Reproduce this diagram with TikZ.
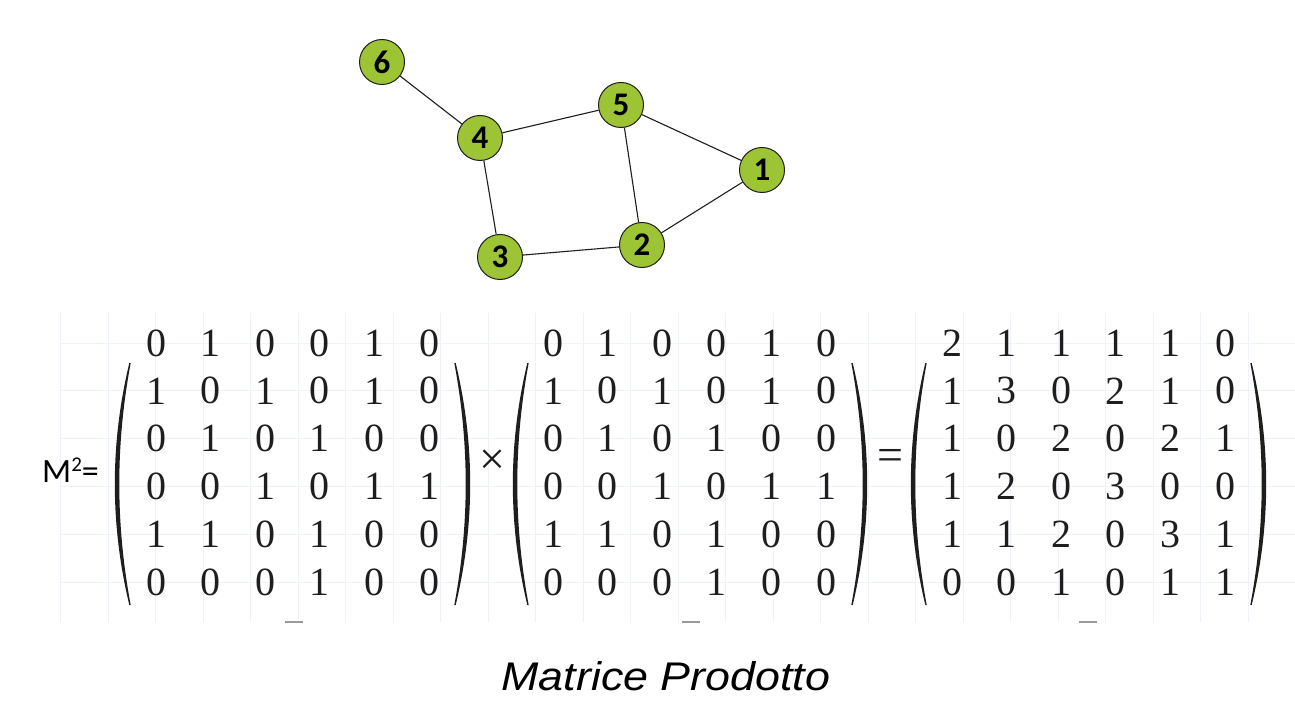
\documentclass[tikz,border=0pt]{standalone}
\usepackage{fontspec}
\setmainfont{Liberation Serif}
\newfontfamily\calibri{Carlito}
\newfontfamily\arialf{Liberation Sans}
\definecolor{nodegreen}{RGB}{156,196,52}
\definecolor{gridc}{RGB}{240,242,250}
\definecolor{ink}{RGB}{30,30,30}
\tikzset{
  vert/.style={circle, draw=ink, line width=1pt, fill=nodegreen, minimum size=45pt, inner sep=0pt, font=\calibri\bfseries\fontsize{33}{33}\selectfont},
  edge/.style={draw=ink, line width=1.1pt},
  entry/.style={font=\fontsize{40}{40}\selectfont, inner sep=0pt, text=ink},
  gridline/.style={draw=gridc, line width=0.8pt},
  dashmark/.style={draw=black!40, line width=1.2pt},
  lparen/.pic={\fill[ink] (-0.7,0) .. controls (-20,81) and (-20,161) .. (-0.7,242) -- (0.7,242) .. controls (-14.5,161) and (-14.5,81) .. (0.7,0) -- cycle;}
}
\begin{document}
\begin{tikzpicture}[x=1pt,y=-1pt]
\useasboundingbox (0,0) rectangle (1295,711);
\fill[white] (0,0) rectangle (1295,711);
% faint grid
\foreach \k in {0,...,26} { \draw[gridline] (60.5+47.5*\k,313) -- (60.5+47.5*\k,622); }
\foreach \r in {0,...,5} { \draw[gridline] (60,343+47.8*\r) -- (1295,343+47.8*\r); }
% graph
\node[vert] (n6) at (382,62) {6};
\node[vert] (n4) at (480,138) {4};
\node[vert] (n5) at (621,105) {5};
\node[vert] (n1) at (762,170) {1};
\node[vert] (n2) at (642,245) {2};
\node[vert] (n3) at (500,257) {3};
\draw[edge] (n6) -- (n4);
\draw[edge] (n4) -- (n5);
\draw[edge] (n4) -- (n3);
\draw[edge] (n3) -- (n2);
\draw[edge] (n2) -- (n5);
\draw[edge] (n5) -- (n1);
\draw[edge] (n1) -- (n2);
% M^2 =
\node[anchor=base west, inner sep=0pt, font=\calibri\fontsize{34}{34}\selectfont] (lhs) at (42,482) {M\raisebox{11pt}{\fontsize{21}{21}\selectfont 2}=};
% matrices
\foreach \row [count=\r from 0] in {{0,1,0,0,1,0},{1,0,1,0,1,0},{0,1,0,1,0,0},{0,0,1,0,1,1},{1,1,0,1,0,0},{0,0,0,1,0,0}} {
  \foreach \v [count=\c from 0] in \row {
    \node[entry] (a-\r-\c) at (156+54.6*\c,343+47.8*\r) {\v};
    \node[entry] (b-\r-\c) at (553+54.6*\c,343+47.8*\r) {\v};
  }
}
\foreach \row [count=\r from 0] in {{2,1,1,1,1,0},{1,3,0,2,1,0},{1,0,2,0,2,1},{1,2,0,3,0,0},{1,1,2,0,3,1},{0,0,1,0,1,1}} {
  \foreach \v [count=\c from 0] in \row {
    \node[entry] (c-\r-\c) at (952+54.6*\c,343+47.8*\r) {\v};
  }
}
% parentheses
\pic at (130,363) {lparen};
\pic[xscale=-1] at (455,363) {lparen};
\pic at (528,363) {lparen};
\pic[xscale=-1] at (852,363) {lparen};
\pic at (926,363) {lparen};
\pic[xscale=-1] at (1251,363) {lparen};
% operators
\node[inner sep=0pt, font=\fontsize{46}{46}\selectfont, text=ink] (times) at (492,462) {×};
\node[inner sep=0pt, font=\fontsize{46}{46}\selectfont, text=ink] (equals) at (890,460) {=};
% small dash marks
\draw[dashmark] (285,622) -- (303,622);
\draw[dashmark] (682,622) -- (700,622);
\draw[dashmark] (1079,622) -- (1097,622);
% caption
\node[anchor=base, inner sep=0pt, font=\arialf\itshape\fontsize{40}{40}\selectfont] (caption) at (666,690) {\scalebox{1.12}[1]{Matrice Prodotto}};
\end{tikzpicture}
\end{document}
